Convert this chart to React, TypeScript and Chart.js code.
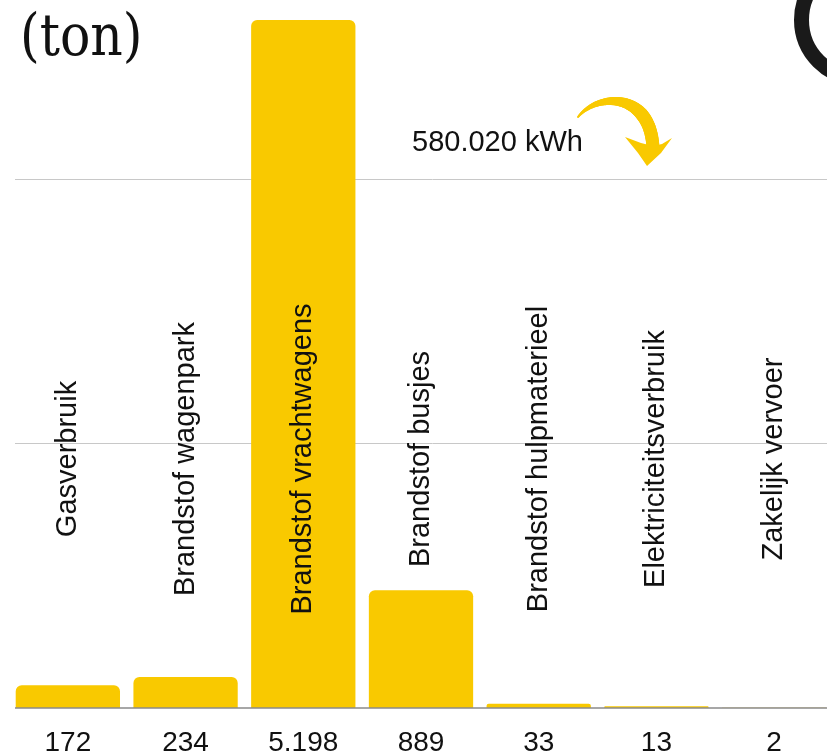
import React, { useEffect, useRef } from "react";
import { Chart, registerables } from "chart.js";

Chart.register(...registerables);

const categories = [
  "Gasverbruik",
  "Brandstof wagenpark",
  "Brandstof vrachtwagens",
  "Brandstof busjes",
  "Brandstof hulpmaterieel",
  "Elektriciteitsverbruik",
  "Zakelijk vervoer",
];
const values = [172, 234, 5198, 889, 33, 13, 2];
const valueLabels = ["172", "234", "5.198", "889", "33", "13", "2"];
const gridValues = [2000, 4000];
const unitLabel = "(ton)";
const annotationText = "580.020 kWh";

const YELLOW = "#F9C900";
const SANS = '"Liberation Sans", Arial, sans-serif';

const decor = {
  id: "decor",
  beforeDatasetsDraw(chart: any) {
    const { ctx, chartArea, scales } = chart;
    ctx.save();
    ctx.strokeStyle = "#c8c8c8";
    ctx.lineWidth = 1;
    gridValues.forEach((v) => {
      const y = Math.round(scales.y.getPixelForValue(v)) + 0.5;
      ctx.beginPath();
      ctx.moveTo(chartArea.left + 6, y);
      ctx.lineTo(chart.width, y);
      ctx.stroke();
    });
    ctx.restore();
  },
  afterDatasetsDraw(chart: any) {
    const { ctx, chartArea, scales } = chart;
    ctx.save();
    // baseline
    const y0 = scales.y.getPixelForValue(0);
    ctx.strokeStyle = "#8a8a8a";
    ctx.lineWidth = 1.5;
    ctx.beginPath();
    ctx.moveTo(chartArea.left + 6, y0);
    ctx.lineTo(chart.width, y0);
    ctx.stroke();

    // category labels, rotated
    ctx.fillStyle = "#111";
    ctx.font = "29px " + SANS;
    ctx.textAlign = "center";
    ctx.textBaseline = "alphabetic";
    categories.forEach((c, i) => {
      const x = scales.x.getPixelForValue(i);
      ctx.save();
      ctx.translate(x + 8, chartArea.bottom - 249);
      ctx.rotate(-Math.PI / 2);
      ctx.fillText(c, 0, 0);
      ctx.restore();
    });

    // unit title
    ctx.textAlign = "left";
    ctx.save();
    ctx.translate(20, 55);
    ctx.scale(0.87, 1);
    ctx.font = '58px "DejaVu Serif", serif';
    ctx.fillText(unitLabel, 0, 0);
    ctx.restore();

    // annotation
    ctx.font = "29px " + SANS;
    ctx.fillText(annotationText, 412, 151);

    // arrow shaft (tapered)
    const P = [
      [578, 117],
      [598, 92],
      [652, 92],
      [653, 150],
    ];
    const bz = (t: number, k: number) =>
      (1 - t) ** 3 * P[0][k] +
      3 * (1 - t) ** 2 * t * P[1][k] +
      3 * (1 - t) * t * t * P[2][k] +
      t ** 3 * P[3][k];
    ctx.strokeStyle = YELLOW;
    ctx.lineCap = "round";
    const N = 60;
    for (let i = 0; i < N; i++) {
      const t0 = i / N;
      const t1 = (i + 1) / N;
      ctx.lineWidth = 2 + 11 * Math.min(1, t0 * 1.4);
      ctx.beginPath();
      ctx.moveTo(bz(t0, 0), bz(t0, 1));
      ctx.lineTo(bz(t1, 0), bz(t1, 1));
      ctx.stroke();
    }
    // arrow head
    ctx.fillStyle = YELLOW;
    ctx.beginPath();
    ctx.moveTo(625, 137);
    ctx.lineTo(641, 143);
    ctx.lineTo(653, 146);
    ctx.lineTo(662, 144);
    ctx.lineTo(672, 138);
    ctx.lineTo(661, 153);
    ctx.lineTo(647, 166);
    ctx.lineTo(638, 153);
    ctx.closePath();
    ctx.fill();

    // black arc at top right
    ctx.strokeStyle = "#1a1a1a";
    ctx.lineWidth = 15;
    ctx.beginPath();
    ctx.arc(860, 20, 58.5, 0, Math.PI * 2);
    ctx.stroke();

    ctx.restore();
  },
};

export default function App() {
  const ref = useRef<HTMLCanvasElement | null>(null);
  useEffect(() => {
    if (!ref.current) return;
    const chart = new Chart(ref.current, {
      type: "bar",
      data: {
        labels: categories,
        datasets: [
          {
            data: values,
            backgroundColor: YELLOW,
            borderRadius: 6,
            borderSkipped: "start",
            categoryPercentage: 1,
            barPercentage: 0.886,
          },
        ],
      },
      options: {
        animation: false,
        responsive: false,
        maintainAspectRatio: false,
        layout: { padding: { left: 9, right: 17, top: 20, bottom: 0 } },
        plugins: { legend: { display: false }, tooltip: { enabled: false }, title: { display: false } },
        scales: {
          x: {
            grid: { display: false, drawTicks: false },
            border: { display: false },
            ticks: {
              callback: (_v: any, i: number) => valueLabels[i],
              font: { family: SANS, size: 28 },
              color: "#111",
              padding: 18,
              maxRotation: 0,
              autoSkip: false,
            },
            afterFit: (s: any) => {
              s.height = 48;
            },
          },
          y: { display: false, min: 0, max: 5198 },
        },
      },
      plugins: [decor],
    });
    return () => chart.destroy();
  }, []);
  return (
    <div style={{ position: "fixed", left: 0, top: 0, width: 827, height: 756, overflow: "hidden", background: "#fff" }}>
      <canvas ref={ref} width={850} height={756} style={{ display: "block", width: 850, height: 756 }} />
    </div>
  );
}
